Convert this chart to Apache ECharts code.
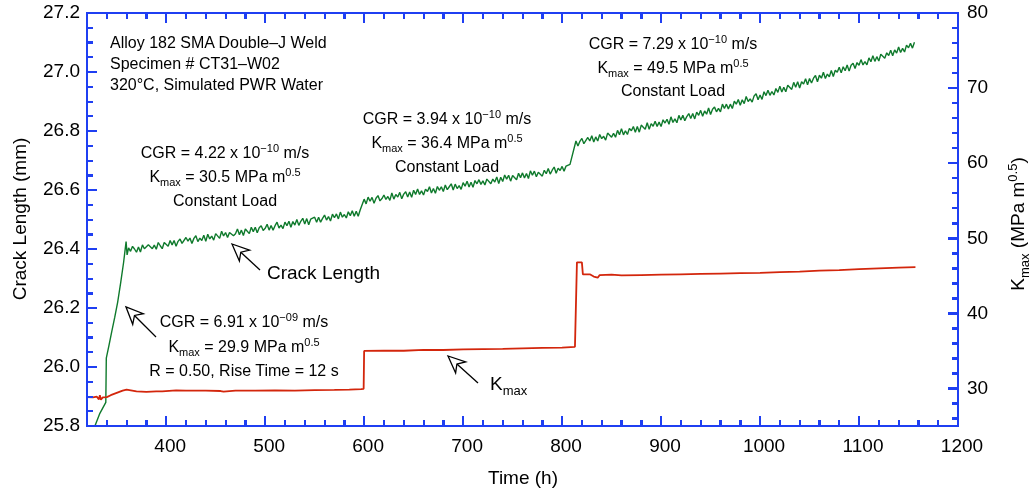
<!DOCTYPE html>
<html>
<head>
<meta charset="utf-8">
<title>Alloy 182 SMA Double–J Weld – CT31–W02</title>
<script src="https://cdn.jsdelivr.net/npm/echarts@6/dist/echarts.min.js"></script>
<style>
  html, body { margin: 0; padding: 0; background: #ffffff; }
  #wrap { position: relative; width: 1034px; height: 492px; }
  #chart { position: absolute; left: 0; top: 0; width: 1034px; height: 492px; }
  #notes { position: absolute; left: 0; top: 0; width: 1034px; height: 492px; pointer-events: none; z-index: 5; }
  .note { position: absolute; white-space: nowrap; color: #000;
          font-family: "Liberation Sans", Arial, Helvetica, sans-serif; font-size: 16px; line-height: 20px; }
  .note sup, .note sub { font-size: 11px; line-height: 0; }
  .note.big { font-size: 19px; line-height: 24px; }
  .note.big sup, .note.big sub { font-size: 13px; }
  .c { transform: translate(-50%, -50%); }
  .l { transform: translate(0, -50%); }
  .r90 { transform: translate(-50%, -50%) rotate(-90deg); }
</style>
</head>
<body>
<div id="wrap">
  <div id="chart"></div>
  <div id="notes"></div>
</div>
<script>
// ---- Crack length (mm) ------------------------------------------------------
// Start-up (cyclic) ramp, [time h, crack length mm]
const crackRamp = [
  [328, 25.800], [333, 25.843], [339, 25.880], [339.5, 26.030], [342, 26.070],
  [345, 26.120], [348, 26.168], [351, 26.220], [354, 26.285], [357, 26.355],
  [359.5, 26.425], [360.5, 26.380]
];
// Constant-load periods, logged every SAMPLE_STEP_H hours from the given start
const SAMPLE_STEP_H = 2;
const crackStartB = 362;
const crackB = [
  26.404, 26.392, 26.409, 26.400, 26.389, 26.407, 26.390, 26.414, 26.401, 26.396,
  26.414, 26.420, 26.401, 26.413, 26.399, 26.422, 26.411, 26.401, 26.422, 26.417,
  26.409, 26.429, 26.414, 26.429, 26.409, 26.426, 26.434, 26.419, 26.416, 26.439,
  26.427, 26.437, 26.419, 26.436, 26.445, 26.425, 26.437, 26.429, 26.447, 26.426,
  26.450, 26.434, 26.444, 26.430, 26.452, 26.446, 26.436, 26.460, 26.444, 26.456,
  26.439, 26.456, 26.462, 26.445, 26.452, 26.468, 26.448, 26.464, 26.446, 26.468,
  26.463, 26.452, 26.474, 26.459, 26.474, 26.455, 26.472, 26.479, 26.463, 26.470,
  26.484, 26.464, 26.480, 26.464, 26.479, 26.491, 26.471, 26.481, 26.469, 26.491,
  26.479, 26.494, 26.474, 26.493, 26.481, 26.500, 26.480, 26.494, 26.504, 26.485,
  26.503, 26.482, 26.501, 26.495, 26.508, 26.491, 26.508, 26.491, 26.504, 26.515,
  26.498, 26.510, 26.495, 26.518, 26.506, 26.519, 26.502, 26.525, 26.508, 26.517,
  26.505, 26.526, 26.513, 26.530, 26.511, 26.528, 26.511, 26.532
];
const crackStartC = 600;
const crackC = [
  26.569, 26.553, 26.576, 26.562, 26.575, 26.555, 26.572, 26.581, 26.563, 26.571,
  26.583, 26.568, 26.578, 26.565, 26.590, 26.569, 26.585, 26.576, 26.592, 26.570,
  26.586, 26.594, 26.576, 26.593, 26.575, 26.599, 26.585, 26.603, 26.585, 26.597,
  26.583, 26.603, 26.595, 26.611, 26.590, 26.605, 26.589, 26.612, 26.599, 26.611,
  26.595, 26.617, 26.601, 26.611, 26.621, 26.600, 26.620, 26.605, 26.615, 26.602,
  26.625, 26.613, 26.630, 26.610, 26.626, 26.609, 26.632, 26.621, 26.635, 26.619,
  26.631, 26.617, 26.637, 26.643, 26.621, 26.637, 26.627, 26.644, 26.622, 26.643,
  26.629, 26.651, 26.637, 26.650, 26.630, 26.649, 26.645, 26.635, 26.657, 26.642,
  26.658, 26.641, 26.656, 26.639, 26.665, 26.650, 26.664, 26.645, 26.660, 26.666,
  26.647, 26.667, 26.655, 26.673, 26.654, 26.667, 26.678, 26.657, 26.674, 26.666,
  26.680, 26.664, 26.681, 26.677, 26.687, 26.691
];
const crackStartD = 814;
const crackD = [
  26.766, 26.749, 26.765, 26.775, 26.757, 26.754, 26.778, 26.766, 26.784, 26.763,
  26.780, 26.766, 26.788, 26.774, 26.782, 26.769, 26.793, 26.797, 26.779, 26.792,
  26.779, 26.802, 26.787, 26.808, 26.787, 26.801, 26.788, 26.809, 26.801, 26.815,
  26.796, 26.815, 26.796, 26.820, 26.813, 26.806, 26.828, 26.806, 26.825, 26.816,
  26.833, 26.815, 26.830, 26.815, 26.838, 26.827, 26.840, 26.823, 26.848, 26.829,
  26.841, 26.828, 26.853, 26.837, 26.853, 26.835, 26.849, 26.859, 26.842, 26.859,
  26.841, 26.864, 26.853, 26.870, 26.850, 26.868, 26.857, 26.878, 26.856, 26.874,
  26.881, 26.865, 26.877, 26.865, 26.891, 26.876, 26.891, 26.875, 26.891, 26.876,
  26.901, 26.891, 26.907, 26.887, 26.906, 26.893, 26.917, 26.900, 26.909, 26.898,
  26.919, 26.926, 26.906, 26.922, 26.907, 26.933, 26.920, 26.938, 26.921, 26.934,
  26.922, 26.944, 26.931, 26.952, 26.932, 26.948, 26.933, 26.955, 26.951, 26.941,
  26.965, 26.948, 26.967, 26.946, 26.967, 26.959, 26.977, 26.957, 26.978, 26.963,
  26.979, 26.988, 26.967, 26.989, 26.979, 26.999, 26.978, 26.993, 26.984, 27.005,
  26.985, 27.006, 26.999, 27.016, 26.997, 27.018, 27.004, 27.024, 27.003, 27.023,
  27.030, 27.012, 27.032, 27.023, 27.042, 27.024, 27.035, 27.024, 27.048, 27.035,
  27.055, 27.036, 27.052, 27.037, 27.060, 27.065, 27.047, 27.065, 27.056, 27.074,
  27.055, 27.075, 27.064, 27.085, 27.066, 27.080, 27.068, 27.091, 27.082, 27.097,
  27.081, 27.101
];

// ---- Kmax (MPa m^0.5), [time h, Kmax] ---------------------------------------
const kmax = [
  [320, 28.85], [326, 28.80], [330, 28.90], [332, 28.55], [333, 29.10], [334, 28.50],
  [336, 28.80], [340, 28.85], [344, 29.10], [348, 29.30], [352, 29.50], [356, 29.70],
  [358, 29.90], [360, 29.85], [362, 29.60], [370, 29.62], [380, 29.55], [390, 29.60],
  [396, 29.60], [397, 29.78], [410, 29.75], [420, 29.70], [440, 29.72], [455, 29.66],
  [458, 29.58], [470, 29.70], [490, 29.72], [510, 29.75], [530, 29.72], [550, 29.78],
  [570, 29.80], [585, 29.85], [597, 29.90], [599.5, 29.95], [600, 35.00], [620, 35.05],
  [640, 35.02], [660, 35.15], [680, 35.12], [700, 35.20], [720, 35.25], [740, 35.28],
  [760, 35.35], [780, 35.40], [800, 35.45], [813, 35.55], [814.5, 35.60], [815, 46.80],
  [820, 46.80], [821, 45.20], [828, 45.20], [832, 44.90], [836, 44.75], [838, 45.10],
  [850, 45.15], [860, 45.05], [880, 45.10], [900, 45.15], [920, 45.20], [940, 45.25],
  [960, 45.30], [980, 45.35], [1000, 45.40], [1020, 45.50], [1040, 45.55], [1060, 45.70],
  [1080, 45.75], [1100, 45.90], [1120, 46.00], [1140, 46.10], [1157, 46.15]
];

// ---- Axis ticks ---------------------------------------------------------------
const timeRange = [320, 1200];
const crackRange = [25.8, 27.2];
const kmaxRange = [25, 80];
const timeMajor = [400, 500, 600, 700, 800, 900, 1000, 1100, 1200];
const crackMajor = [25.8, 26.0, 26.2, 26.4, 26.6, 26.8, 27.0, 27.2];
const kmaxMajor = [30, 40, 50, 60, 70, 80];

function ticks(from, to, step, digits) {
  const out = [];
  for (let v = from; v <= to + step / 2; v += step) out.push(+v.toFixed(digits));
  return out;
}
const timeMinor = ticks(320, 1200, 20, 0);
const crackMinor = ticks(25.8, 27.2, 0.05, 2);
const kmaxMinor = ticks(26, 80, 2, 0);

function sampled(start, values) {
  return values.map((v, i) => [start + i * SAMPLE_STEP_H, v]);
}
const crackSeries = crackRamp
  .concat(sampled(crackStartB, crackB))
  .concat(sampled(crackStartC, crackC))
  .concat(sampled(crackStartD, crackD));

// ---- Styling -------------------------------------------------------------------
const FONT = 'Liberation Sans, Arial, Helvetica, sans-serif';
const BLUE = '#1f3ff2';
const GREEN = '#0f7a2c';
const RED = '#d3260c';
const MAJOR_LEN = 10, MINOR_LEN = 6;

// One frame side: an axis carrying the short (minor) ticks and the labels,
// plus an overlay axis on the same side carrying the long (major) ticks.
function frameSide(position, range, minor, major, labelOpts) {
  const make = (tickVals, tickLen, withLabels) => ({
    type: 'value', position: position, min: range[0], max: range[1],
    splitLine: { show: false },
    axisLine: { show: true, onZero: false, lineStyle: { color: BLUE, width: 2 } },
    axisTick: { show: true, inside: true, length: tickLen, customValues: tickVals,
      lineStyle: { color: BLUE, width: 2 } },
    axisLabel: withLabels ? Object.assign({ show: true, customValues: major, color: '#000',
      fontSize: 19, fontFamily: FONT }, labelOpts) : { show: false }
  });
  return [make(minor, MINOR_LEN, !!labelOpts), make(major, MAJOR_LEN, false)];
}

const xAxes = []
  .concat(frameSide('bottom', timeRange, timeMinor, timeMajor,
    { margin: 11, padding: [0, 0, 0, 8], formatter: v => String(v) }))
  .concat(frameSide('top', timeRange, timeMinor, timeMajor, null));
const yAxes = []
  .concat(frameSide('left', crackRange, crackMinor, crackMajor,
    { margin: 7, formatter: v => v.toFixed(1) }))
  .concat(frameSide('right', kmaxRange, kmaxMinor, kmaxMajor,
    { margin: 9, formatter: v => String(v) }));

const chart = echarts.init(document.getElementById('chart'), null, { renderer: 'canvas' });
chart.setOption({
  animation: false,
  backgroundColor: '#ffffff',
  textStyle: { fontFamily: FONT },
  grid: { left: 87, right: 76, top: 13, bottom: 66, containLabel: false, outerBoundsMode: 'none' },
  xAxis: xAxes,
  yAxis: yAxes,
  series: [
    {
      type: 'line', xAxisIndex: 0, yAxisIndex: 0,
      data: crackSeries, showSymbol: false,
      lineStyle: { color: GREEN, width: 1.4 }
    },
    {
      type: 'line', xAxisIndex: 0, yAxisIndex: 2,
      data: kmax, showSymbol: false,
      lineStyle: { color: RED, width: 1.8 }
    }
  ]
});

// ---- Tick marks and arrows drawn as graphic shapes --------------------------------
function isMajor(v, majors) { return majors.some(m => Math.abs(m - v) < 1e-6); }
function toPx(t, v, yIndex) {
  return chart.convertToPixel({ xAxisIndex: 0, yAxisIndex: yIndex }, [t, v]);
}
function tickMarks() {
  const out = [];
  const seg = (a, b) => out.push({
    type: 'polyline', silent: true, z: 20,
    shape: { points: [a, b] },
    style: { stroke: BLUE, lineWidth: 2, fill: null }
  });
  const c0 = toPx(timeRange[0], crackRange[0], 0);
  const c1 = toPx(timeRange[1], crackRange[1], 0);
  const xl = Math.round(c0[0]), yb = Math.round(c0[1]);
  const xr = Math.round(c1[0]), yt = Math.round(c1[1]);
  timeMinor.forEach(t => {
    const x = Math.round(toPx(t, crackRange[0], 0)[0]);
    const len = isMajor(t, timeMajor) ? MAJOR_LEN : MINOR_LEN;
    seg([x, yb], [x, yb - len]);
    seg([x, yt], [x, yt + len]);
  });
  crackMinor.forEach(v => {
    const y = Math.round(toPx(timeRange[0], v, 0)[1]);
    seg([xl, y], [xl + (isMajor(v, crackMajor) ? MAJOR_LEN : MINOR_LEN), y]);
  });
  kmaxMinor.forEach(v => {
    const y = Math.round(toPx(timeRange[1], v, 2)[1]);
    seg([xr, y], [xr - (isMajor(v, kmaxMajor) ? MAJOR_LEN : MINOR_LEN), y]);
  });
  return out;
}

function arrow(tip, tail) {
  const dx = tail[0] - tip[0], dy = tail[1] - tip[1];
  const len = Math.hypot(dx, dy);
  const ux = dx / len, uy = dy / len, nxp = -uy, nyp = ux;
  const head = 17, half = 7.5, notch = 12;
  const bx = tip[0] + ux * head, by = tip[1] + uy * head;
  const cx = tip[0] + ux * notch, cy = tip[1] + uy * notch;
  return [
    { type: 'polyline', silent: true, z: 10,
      shape: { points: [[cx, cy], tail] },
      style: { stroke: '#000', lineWidth: 1.3, fill: null } },
    { type: 'polygon', silent: true, z: 11,
      shape: { points: [tip, [bx + nxp * half, by + nyp * half], [cx, cy], [bx - nxp * half, by - nyp * half]] },
      style: { stroke: '#000', lineWidth: 1.3, fill: '#fff' } }
  ];
}
const arrows = []
  .concat(arrow([232, 244], [260, 270]))
  .concat(arrow([126, 307], [156, 337]))
  .concat(arrow([448, 356], [478, 383]));

let marks = [];
try { marks = tickMarks(); } catch (e) { marks = []; }
chart.setOption({ graphic: arrows.concat(marks) });

// ---- Text notes (HTML, with real superscripts and subscripts) ------------------------
const notes = document.getElementById('notes');
function note(x, y, html, cls) {
  const d = document.createElement('div');
  d.className = 'note ' + cls;
  d.style.left = x + 'px';
  d.style.top = y + 'px';
  d.innerHTML = html;
  notes.appendChild(d);
}
function cgrBlock(cx, y0, gap, cgr, exp, k, lastLine) {
  note(cx, y0, 'CGR = ' + cgr + ' x 10<sup>−' + exp + '</sup> m/s', 'c');
  note(cx, y0 + gap, 'K<sub>max</sub> = ' + k + ' MPa m<sup>0.5</sup>', 'c');
  note(cx, y0 + 2 * gap, lastLine, 'c');
}

note(110, 43, 'Alloy 182 SMA Double–J Weld', 'l');
note(110, 64, 'Specimen # CT31–W02', 'l');
note(110, 85, '320°C, Simulated PWR Water', 'l');
cgrBlock(225, 153, 24, '4.22', '10', '30.5', 'Constant Load');
cgrBlock(447, 119, 24, '3.94', '10', '36.4', 'Constant Load');
cgrBlock(673, 44, 23.5, '7.29', '10', '49.5', 'Constant Load');
cgrBlock(244, 322, 24.5, '6.91', '09', '29.9', 'R = 0.50, Rise Time = 12 s');
note(267, 273, 'Crack Length', 'big l');
note(490, 384, 'K<sub>max</sub>', 'big l');
note(523, 478, 'Time (h)', 'big c');
note(20, 219, 'Crack Length (mm)', 'big r90');
note(1018, 224, 'K<sub>max</sub> (MPa m<sup>0.5</sup>)', 'big r90');
</script>
</body>
</html>
